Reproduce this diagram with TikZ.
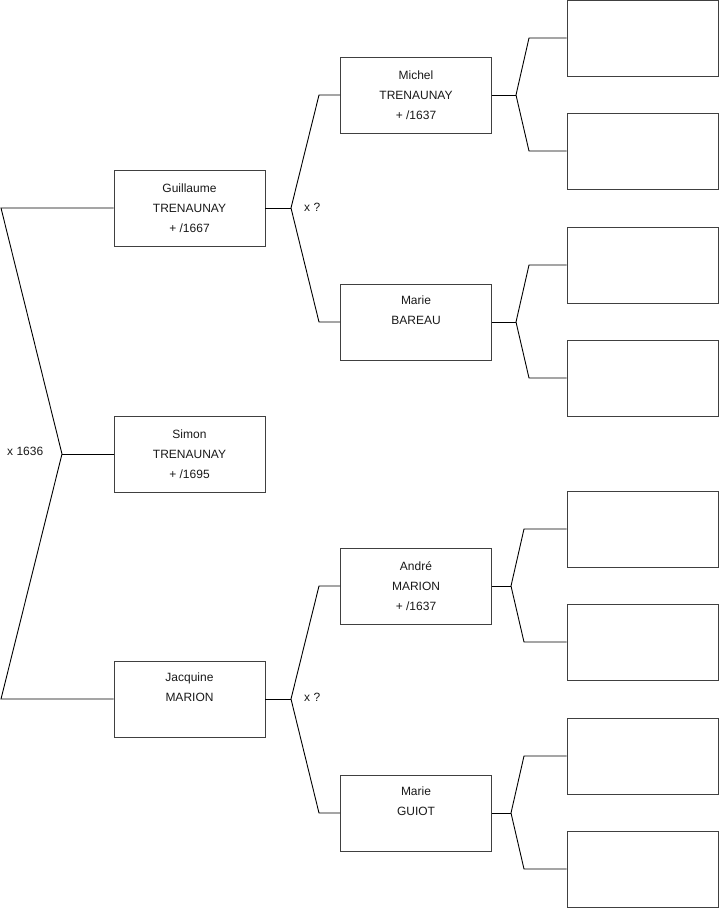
\documentclass[tikz,border=0pt]{standalone}
\usepackage{fontspec}
\setmainfont{Liberation Sans}
\begin{document}
\begin{tikzpicture}[x=1pt,y=-1pt,
  person/.style={draw=black!75, line width=0.9pt, minimum width=151pt, minimum height=76pt, inner sep=0pt, align=center, font=\fontsize{12}{20}\selectfont, text=black!90},
  conn/.style={draw=black, line width=0.9pt},
  lbl/.style={font=\fontsize{12}{14}\selectfont, text=black!90, inner sep=0pt}]
\useasboundingbox (0,0) rectangle (719,908);
% generation 1
\node[person] (g) at (189.5,208) {Guillaume\\TRENAUNAY\\+ /1667};
\node[person] (s) at (189.5,454) {Simon\\TRENAUNAY\\+ /1695};
\node[person] (j) at (189.5,699) {Jacquine\\MARION\\[-3pt]\strut};
% generation 2
\node[person] (m) at (416,95) {Michel\\TRENAUNAY\\+ /1637};
\node[person] (b) at (416,322) {Marie\\BAREAU\\[-3pt]\strut};
\node[person] (a) at (416,586) {André\\MARION\\+ /1637};
\node[person] (u) at (416,813) {Marie\\GUIOT\\[-3pt]\strut};
% generation 3 (empty)
\node[person] (p1) at (642.5,38) {};
\node[person] (p2) at (642.5,151) {};
\node[person] (p3) at (642.5,265) {};
\node[person] (p4) at (642.5,378) {};
\node[person] (p5) at (642.5,529) {};
\node[person] (p6) at (642.5,642) {};
\node[person] (p7) at (642.5,756) {};
\node[person] (p8) at (642.5,869) {};
% left bracket
\coordinate (L1) at (1,208);
\coordinate (L0) at (62,454);
\coordinate (L2) at (1,699);
\draw[conn] (g.west) -- (L1) -- (L0) -- (L2) -- (j.west);
\draw[conn] (L0) -- (s.west);
\node[lbl, anchor=west] (x0) at (7,451) {x 1636};
% Guillaume parents
\coordinate (G0) at (291,208);
\coordinate (G1) at (319,95);
\coordinate (G2) at (319,322);
\draw[conn] (g.east) -- (G0);
\draw[conn] (m.west) -- (G1) -- (G0) -- (G2) -- (b.west);
\node[lbl, anchor=west] (x1) at (304,207) {x ?};
% Jacquine parents
\coordinate (J0) at (291,699);
\coordinate (J1) at (319,586);
\coordinate (J2) at (319,813);
\draw[conn] (j.east) -- (J0);
\draw[conn] (a.west) -- (J1) -- (J0) -- (J2) -- (u.west);
\node[lbl, anchor=west] (x2) at (304,697) {x ?};
% generation 3 brackets
\coordinate (M0) at (516,95);
\coordinate (M1) at (529,38);
\coordinate (M2) at (529,151);
\draw[conn] (m.east) -- (M0);
\draw[conn] (p1.west) -- (M1) -- (M0) -- (M2) -- (p2.west);
\coordinate (B0) at (516,322);
\coordinate (B1) at (529,265);
\coordinate (B2) at (529,378);
\draw[conn] (b.east) -- (B0);
\draw[conn] (p3.west) -- (B1) -- (B0) -- (B2) -- (p4.west);
\coordinate (A0) at (511,586);
\coordinate (A1) at (524,529);
\coordinate (A2) at (524,642);
\draw[conn] (a.east) -- (A0);
\draw[conn] (p5.west) -- (A1) -- (A0) -- (A2) -- (p6.west);
\coordinate (U0) at (511,813);
\coordinate (U1) at (524,756);
\coordinate (U2) at (524,869);
\draw[conn] (u.east) -- (U0);
\draw[conn] (p7.west) -- (U1) -- (U0) -- (U2) -- (p8.west);
\end{tikzpicture}
\end{document}
